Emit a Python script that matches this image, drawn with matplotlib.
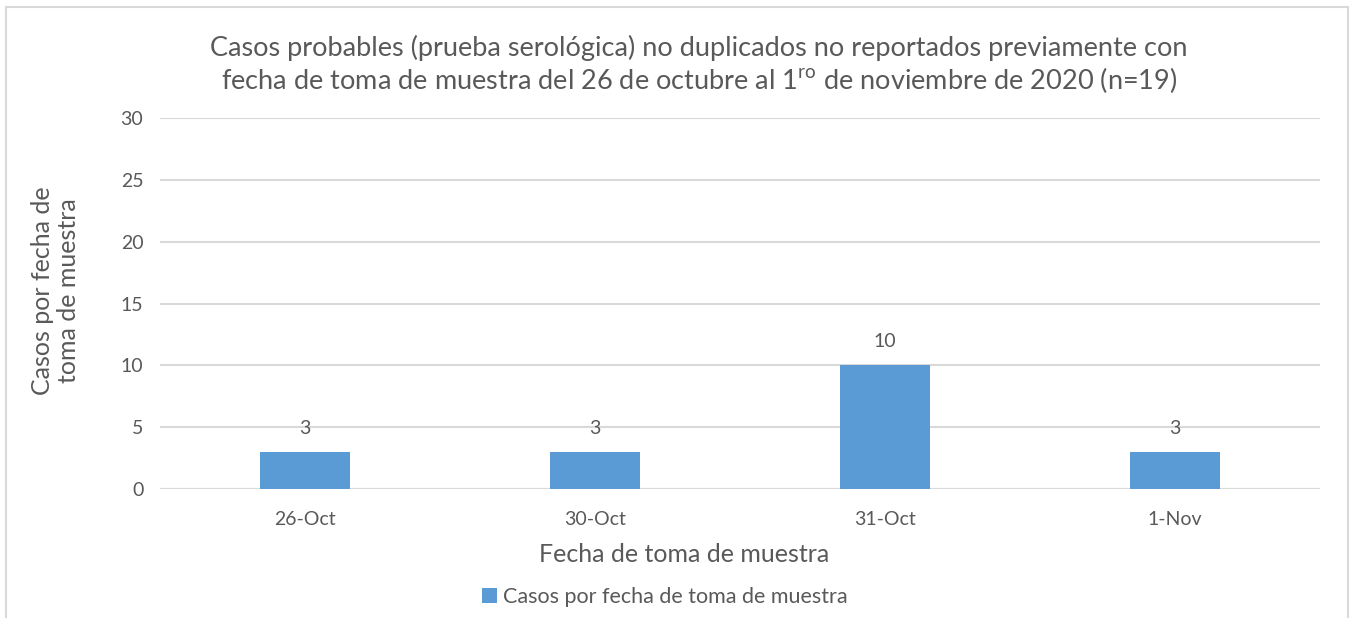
import matplotlib.pyplot as plt
from matplotlib.patches import Rectangle

categories = ["26-Oct", "30-Oct", "31-Oct", "1-Nov"]
casos = [3, 3, 10, 3]
yticks = [0, 5, 10, 15, 20, 25, 30]

BAR = "#5B9BD5"
TXT = "#595959"
GRID = "#D9D9D9"

plt.rcParams["font.family"] = ["Lato", "DejaVu Sans"]
plt.rcParams["mathtext.fontset"] = "custom"
plt.rcParams["mathtext.rm"] = "Lato"


def main():
    fig = plt.figure(figsize=(13.51, 6.18), dpi=100)
    ax = fig.add_axes([0.1184, 0.2087, 0.8586, 0.6003])

    x = range(len(categories))
    bars = ax.bar(x, casos, width=0.31, color=BAR, zorder=3,
                  label="Casos por fecha de toma de muestra")
    for b, v in zip(bars, casos):
        ax.annotate(str(v), (b.get_x() + b.get_width() / 2, v),
                    xytext=(0, 17), textcoords="offset points",
                    ha="center", va="center", fontsize=14, color=TXT)

    ax.set_xlim(-0.5, len(categories) - 0.5)
    ax.set_ylim(0, 30)
    ax.set_yticks(yticks)
    ax.set_xticks(list(x))
    ax.set_xticklabels(categories)
    ax.tick_params(length=0, labelsize=14, colors=TXT)
    ax.tick_params(axis="x", pad=16)
    ax.tick_params(axis="y", pad=12)
    ax.yaxis.grid(True, color=GRID, linewidth=1.5, zorder=0)
    for s in ax.spines.values():
        s.set_visible(False)
    ax.axhline(0, color=GRID, linewidth=1.5, zorder=2)

    fig.text(684 / 1351, 1 - 555 / 618, "Fecha de toma de muestra",
             ha="center", va="center", fontsize=18, color=TXT)
    fig.text(0.041, 0.53, "Casos por fecha de\ntoma de muestra", rotation=90,
             ha="center", va="center", fontsize=18, color=TXT, linespacing=1.15)

    fig.text(699 / 1351, 0.895,
             "Casos probables (prueba serológica) no duplicados no reportados previamente con\n"
             "fecha de toma de muestra del 26 de octubre al 1$^{\\mathrm{ro}}$ de noviembre de 2020 (n=19)",
             ha="center", va="center", fontsize=19.5, color=TXT, linespacing=1.2)

    fig.legend(loc="center", bbox_to_anchor=(0.492, 0.034), frameon=False,
               fontsize=15.5, labelcolor=TXT, handlelength=0.7, handleheight=0.7,
               handletextpad=0.3)

    fig.patches.append(Rectangle((6 / 1351, -0.05), 1342 / 1351, 1 - 7 / 618 + 0.05,
                                 transform=fig.transFigure, fill=False,
                                 edgecolor="#D9D9D9", linewidth=1.5))

    plt.savefig("out.png", dpi=100)


if __name__ == "__main__":
    main()
